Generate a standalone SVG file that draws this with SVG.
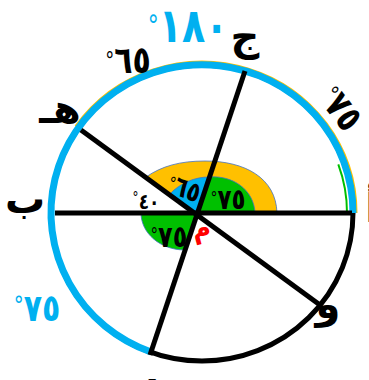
<svg xmlns="http://www.w3.org/2000/svg" width="369" height="380" viewBox="0 0 369 380">
<style>
.ar{font-family:"DejaVu Sans",sans-serif;font-weight:bold;text-anchor:middle}
.pt{font-size:40px;fill:#000}
.deg{font-family:"DejaVu Sans",sans-serif;text-anchor:middle;font-weight:bold}
.d{font-weight:normal}
.ln{stroke:#000;stroke-width:5;fill:none;stroke-linecap:butt}
.sec{stroke:#4472C4;stroke-width:0.8}
</style>
<rect width="369" height="380" fill="#fff"/>
<g id="sectors">
<path class="sec" fill="#FFC000" d="M197,213 L146,177 C162,166 180,161 205,161 C245,161 276,178 277,213 Z"/>
<path class="sec" fill="#00C000" d="M197,213 L209,177 C233,175 254,190 255,213 Z"/>
<path class="sec" fill="#00B0F0" d="M197,213 L170,194 C180,183 195,177 209,177 Z"/>
<path class="sec" fill="#00C000" d="M197,213 L141,213 C141,233 160,250 185,250 Z"/>
</g>
<g id="circle">
<ellipse cx="202" cy="213" rx="151" ry="148" fill="none" stroke="#000" stroke-width="5"/>
<path d="M355.5,213 A153.5,150.5 0 0 0 76.3,126.7" fill="none" stroke="#FFC000" stroke-width="4"/>
<path d="M347,213 A145,142 0 0 0 338.3,164.4" fill="none" stroke="#00C000" stroke-width="2"/>
<path d="M353,213 A151,148 0 1 0 151,352" fill="none" stroke="#00B0F0" stroke-width="7"/>
</g>
<g id="connectors">
<line class="ln" x1="55" y1="213" x2="352" y2="213"/>
<line class="ln" x1="245" y1="71" x2="150" y2="355"/>
<line class="ln" x1="81" y1="130" x2="320" y2="305"/>
</g>
<g id="node-alef"><text class="ar pt" x="372" y="222">أ</text></g>
<g id="node-ba"><text class="ar pt" x="25" y="213">ب</text></g>
<g id="node-jeem"><text class="ar pt" x="245" y="50" font-size="42">ج</text></g>
<g id="node-dal"><text class="ar pt" x="152" y="396">د</text></g>
<g id="node-ha"><text class="ar pt" x="60" y="123">هـ</text></g>
<g id="node-waw"><text class="ar pt" x="328" y="318">و</text></g>
<g id="node-mim"><text class="ar" x="203" y="237" font-size="26" fill="#FF0000" transform="rotate(-15 203 237)">م</text></g>
<g id="arc-labels">
<text class="deg" font-size="38" fill="#00B0F0" direction="rtl" transform="translate(188 42) scale(1 1.25)">١٨٠<tspan class="d" font-size="22" dy="-6">°</tspan></text>
<text class="deg" font-size="30" fill="#000" direction="rtl" transform="translate(128 73) scale(1 1.25)">٦٥<tspan class="d" font-size="18" dy="-4">°</tspan></text>
<text class="deg" font-size="30" fill="#000" direction="rtl" transform="translate(331 116) rotate(52) scale(1 1.25)">٧٥<tspan class="d" font-size="18" dy="-5">°</tspan></text>
<text class="deg" font-size="30" fill="#00B0F0" direction="rtl" transform="translate(37 321) scale(1 1.25)">٧٥<tspan class="d" font-size="20" dy="-6">°</tspan></text>
</g>
<g id="angle-labels">
<text class="deg" font-size="22" fill="#000" direction="rtl" transform="translate(181 197) rotate(20) scale(1 1.25)">٦٥<tspan class="d" font-size="14" dy="-3">°</tspan></text>
<text class="deg" font-size="23" fill="#000" direction="rtl" transform="translate(228 209) scale(1 1.25)">٧٥<tspan class="d" font-size="14" dy="-4">°</tspan></text>
<text class="deg" font-size="17" fill="#000" direction="rtl" letter-spacing="2" transform="translate(146 209) scale(1 1.25)">٤٠<tspan class="d" font-size="12" dy="-5">°</tspan></text>
<text class="deg" font-size="24" fill="#000" direction="rtl" transform="translate(169 247) scale(1 1.25)">٧٥<tspan class="d" font-size="15" dy="-4">°</tspan></text>
</g>
</svg>
